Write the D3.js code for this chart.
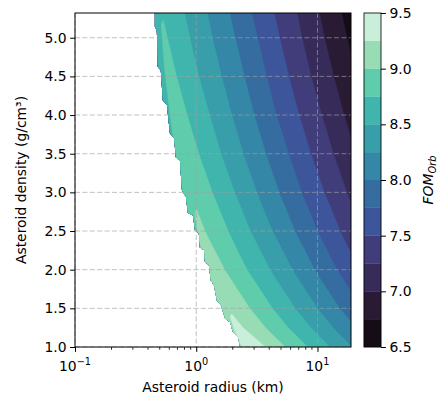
<!DOCTYPE html>
<html>
<head>
<meta charset="utf-8">
<script src="https://cdn.jsdelivr.net/npm/d3@7/dist/d3.min.js"></script>
<style>
  body { margin: 0; background: #fff; }
  text { font-family: "DejaVu Sans", sans-serif; fill: #000; }
</style>
</head>
<body>
<div id="chart"></div>
<script>
// grid columns: areal density rho*R (g/cm^3 * km), dense near the feasibility edge
const arealDensity = [2.1, 2.4, 2.52, 2.65, 2.8, 3.0, 3.5, 5, 10, 20, 40, 110];
// grid rows: asteroid density (g/cm^3)
const densities = [1.0, 1.25, 1.5, 2.0, 2.5, 3.0, 3.5, 4.0, 4.5, 5.0, 5.35];
// FOM_Orb, one row per density, one value per column
const fomRows = [
  [8.98, 9.26, 9.34, 9.38, 9.39, 9.37, 9.29, 9.05, 8.64, 8.23, 7.83, 7.23],
  [8.89, 9.17, 9.24, 9.29, 9.30, 9.26, 9.17, 8.96, 8.56, 8.15, 7.74, 7.15],
  [8.82, 9.10, 9.18, 9.22, 9.23, 9.19, 9.10, 8.89, 8.49, 8.08, 7.67, 7.08],
  [8.71, 8.99, 9.07, 9.11, 9.12, 9.08, 8.99, 8.78, 8.38, 7.97, 7.56, 6.97],
  [8.63, 8.91, 8.99, 9.03, 9.04, 8.99, 8.91, 8.70, 8.29, 7.88, 7.48, 6.88],
  [8.56, 8.84, 8.92, 8.96, 8.97, 8.93, 8.84, 8.63, 8.22, 7.81, 7.41, 6.81],
  [8.50, 8.78, 8.86, 8.90, 8.91, 8.87, 8.78, 8.57, 8.16, 7.76, 7.35, 6.76],
  [8.45, 8.73, 8.81, 8.85, 8.86, 8.82, 8.73, 8.52, 8.11, 7.70, 7.30, 6.70],
  [8.40, 8.68, 8.76, 8.80, 8.81, 8.77, 8.68, 8.47, 8.07, 7.66, 7.25, 6.66],
  [8.36, 8.64, 8.72, 8.76, 8.77, 8.73, 8.64, 8.43, 8.03, 7.62, 7.21, 6.62],
  [8.34, 8.62, 8.70, 8.74, 8.74, 8.71, 8.61, 8.41, 8.00, 7.59, 7.19, 6.59]
];
// left (stair-stepped) edge of the region with a result: [density, radius km]
const maskEdge = [
  [5.32, 0.456], [5.14, 0.456], [5.10, 0.473], [4.62, 0.482], [4.58, 0.51],
  [4.19, 0.53], [4.13, 0.573], [3.76, 0.607], [3.71, 0.655], [3.45, 0.68],
  [3.42, 0.733], [3.03, 0.762], [2.94, 0.822], [2.73, 0.854], [2.70, 0.94],
  [2.51, 0.975], [2.47, 1.05], [2.29, 1.07], [2.25, 1.16], [2.10, 1.18],
  [2.06, 1.27], [1.86, 1.32], [1.80, 1.40], [1.60, 1.48], [1.54, 1.60],
  [1.37, 1.73], [1.32, 1.90], [1.19, 2.01], [1.13, 2.21], [1.0, 2.30]
];
const levels = [6.5, 6.75, 7.0, 7.25, 7.5, 7.75, 8.0, 8.25, 8.5, 8.75, 9.0, 9.25, 9.5];
const colorbarTicks = [6.5, 7.0, 7.5, 8.0, 8.5, 9.0, 9.5];
const yTicks = [1.0, 1.5, 2.0, 2.5, 3.0, 3.5, 4.0, 4.5, 5.0];
const xTicks = [0.1, 1, 10];

// mako, sampled at the band midpoints
const bandColors = ['#150c15', '#2a1b35', '#372c59', '#413d7b', '#3d559b', '#366da0',
  '#3487a6', '#389ea9', '#40b5ad', '#5fcdac', '#98dcb5', '#c9eed9'];

const W = 440, H = 398;
const plot = { left: 75, right: 351, top: 13, bottom: 347 };
const cbar = { left: 364, right: 381, top: 13, bottom: 347 };
const fontSize = 13.9;

const svg = d3.select('#chart').append('svg')
  .attr('width', W).attr('height', H)
  .style('display', 'block');

const x = d3.scaleLog().domain([0.1, 18.9]).range([plot.left, plot.right]);
const y = d3.scaleLinear().domain([1.0, 5.32]).range([plot.bottom, plot.top]);

// grid index -> data coordinates
const nx = arealDensity.length, ny = densities.length;
const colToLog = d3.scaleLinear().domain(d3.range(nx)).range(arealDensity.map(Math.log10));
const rowToRho = d3.scaleLinear().domain(d3.range(ny)).range(densities);

function project(p) {
  const ci = Math.max(0, Math.min(nx - 1, p[0] - 0.5));
  const ri = Math.max(0, Math.min(ny - 1, p[1] - 0.5));
  const rho = rowToRho(ri);
  const radius = Math.pow(10, colToLog(ci)) / rho;
  return [x(radius), y(rho)];
}

const ringPath = ring => 'M' + ring.map(p => project(p).map(v => v.toFixed(2)).join(',')).join('L') + 'Z';
const contourPath = c => c.coordinates.map(poly => poly.map(ringPath).join('')).join('');

const contours = d3.contours()
  .size([nx, ny])
  .thresholds(levels.slice(0, -1))(fomRows.flat());

// clip: plot box minus the region without results
const edgePts = maskEdge.map(d => [x(d[1]), y(d[0])]);
const clipPts = edgePts.concat([[plot.right, plot.bottom], [plot.right, plot.top]]);
const defs = svg.append('defs');
defs.append('clipPath').attr('id', 'valid')
  .append('polygon')
  .attr('points', clipPts.map(p => p.join(',')).join(' '));

svg.append('g')
  .attr('clip-path', 'url(#valid)')
  .selectAll('path')
  .data(contours)
  .enter()
  .append('path')
  .attr('d', contourPath)
  .attr('fill-rule', 'evenodd')
  .attr('fill', (d, i) => bandColors[i])
  .attr('stroke', (d, i) => bandColors[i])
  .attr('stroke-width', 0.3);

// dashed grid
const grid = svg.append('g')
  .attr('stroke', '#a0a0a0')
  .attr('stroke-opacity', 0.65)
  .attr('stroke-width', 1)
  .attr('stroke-dasharray', '5,2.4');
grid.selectAll('.gx').data(xTicks).enter().append('line')
  .attr('x1', d => x(d)).attr('x2', d => x(d))
  .attr('y1', plot.top).attr('y2', plot.bottom);
grid.selectAll('.gy').data(yTicks).enter().append('line')
  .attr('x1', plot.left).attr('x2', plot.right)
  .attr('y1', d => y(d)).attr('y2', d => y(d));

// y axis
const yAxis = svg.append('g')
  .attr('transform', `translate(${plot.left},0)`)
  .call(d3.axisLeft(y).tickValues(yTicks).tickFormat(d3.format('.1f'))
    .tickSize(4.9).tickSizeOuter(0).tickPadding(3.5));
yAxis.select('.domain').remove();
yAxis.selectAll('text').style('font-size', fontSize + 'px').attr('font-family', 'DejaVu Sans');

// x axis, major ticks with 10^n labels
const xAxis = svg.append('g')
  .attr('transform', `translate(0,${plot.bottom})`)
  .call(d3.axisBottom(x).tickValues(xTicks).tickFormat('')
    .tickSize(4.9).tickSizeOuter(0));
xAxis.select('.domain').remove();
const minor = x.ticks().filter(t => !xTicks.some(m => Math.abs(m - t) < 1e-9));
svg.append('g')
  .attr('transform', `translate(0,${plot.bottom})`)
  .selectAll('line').data(minor).enter().append('line')
  .attr('x1', d => x(d)).attr('x2', d => x(d))
  .attr('y1', 0).attr('y2', 2.8)
  .attr('stroke', '#000').attr('stroke-width', 0.8);

const xl = svg.append('g').selectAll('text').data(xTicks).enter().append('text')
  .attr('x', d => x(d)).attr('y', plot.bottom + 24)
  .attr('text-anchor', 'middle')
  .style('font-size', fontSize + 'px');
xl.append('tspan').text('10');
xl.append('tspan')
  .attr('dy', -6)
  .style('font-size', (fontSize * 0.7) + 'px')
  .text(d => { const e = Math.round(Math.log10(d)); return e < 0 ? '\u2212' + (-e) : String(e); });

// spines
svg.append('rect')
  .attr('x', plot.left).attr('y', plot.top)
  .attr('width', plot.right - plot.left).attr('height', plot.bottom - plot.top)
  .attr('fill', 'none').attr('stroke', '#000').attr('stroke-width', 1);

// axis labels
svg.append('text')
  .attr('x', (plot.left + plot.right) / 2).attr('y', 392)
  .attr('text-anchor', 'middle')
  .style('font-size', fontSize + 'px')
  .text('Asteroid radius (km)');

svg.append('text')
  .attr('transform', `translate(26,${(plot.top + plot.bottom) / 2}) rotate(-90)`)
  .attr('text-anchor', 'middle')
  .style('font-size', fontSize + 'px')
  .text('Asteroid density (g/cm\u00b3)');

// colorbar
const cb = d3.scaleLinear().domain([levels[0], levels[levels.length - 1]]).range([cbar.bottom, cbar.top]);
svg.append('g').selectAll('rect')
  .data(bandColors).enter().append('rect')
  .attr('x', cbar.left)
  .attr('width', cbar.right - cbar.left)
  .attr('y', (d, i) => cb(levels[i + 1]))
  .attr('height', (d, i) => cb(levels[i]) - cb(levels[i + 1]))
  .attr('fill', d => d)
  .attr('stroke', d => d).attr('stroke-width', 0.3);
svg.append('rect')
  .attr('x', cbar.left).attr('y', cbar.top)
  .attr('width', cbar.right - cbar.left).attr('height', cbar.bottom - cbar.top)
  .attr('fill', 'none').attr('stroke', '#000').attr('stroke-width', 0.8);

const cAxis = svg.append('g')
  .attr('transform', `translate(${cbar.right},0)`)
  .call(d3.axisRight(cb).tickValues(colorbarTicks).tickFormat(d3.format('.1f'))
    .tickSize(4.9).tickSizeOuter(0).tickPadding(3.5));
cAxis.select('.domain').remove();
cAxis.selectAll('text').style('font-size', fontSize + 'px').attr('font-family', 'DejaVu Sans');

const cl = svg.append('text')
  .attr('transform', `translate(433,${(cbar.top + cbar.bottom) / 2}) rotate(-90)`)
  .attr('text-anchor', 'middle')
  .style('font-size', fontSize + 'px')
  .style('font-style', 'italic');
cl.append('tspan').text('FOM');
cl.append('tspan').attr('dy', 3).style('font-size', (fontSize * 0.7) + 'px').text('Orb');
</script>
</body>
</html>
